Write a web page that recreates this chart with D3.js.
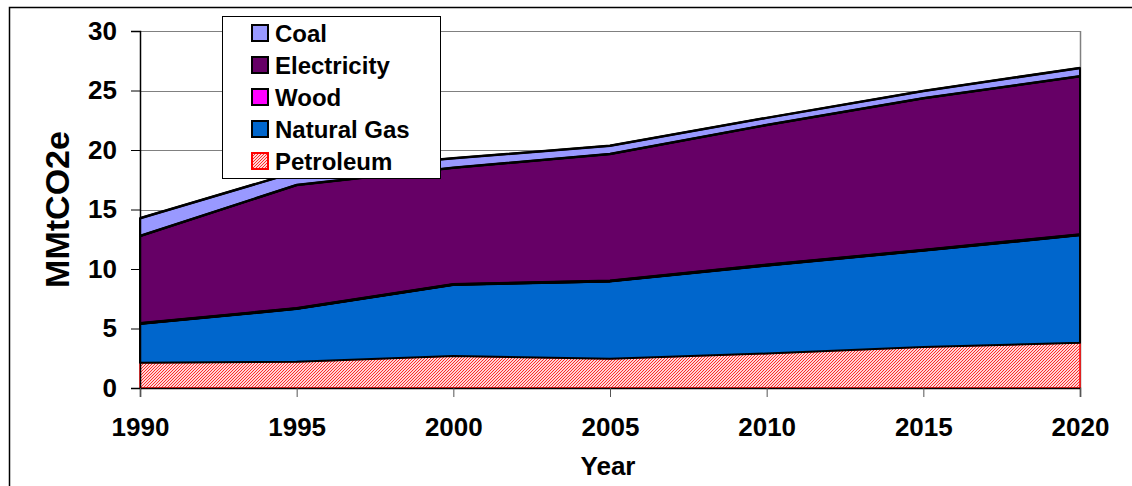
<!DOCTYPE html>
<html>
<head>
<meta charset="utf-8">
<script src="https://cdn.jsdelivr.net/npm/d3@7"></script>
<style>
  body { margin: 0; background: #fff; }
  svg text { font-family: "Liberation Sans", Arial, sans-serif; font-weight: bold; fill: #000; }
</style>
</head>
<body>
<svg id="chart"></svg>
<script>
//================ DATA =========================
const years       = [1990, 1995, 2000, 2005, 2010, 2015, 2020];
const petroleum   = [2.13, 2.2, 2.69, 2.46, 2.9, 3.45, 3.8];
const naturalGas  = [3.26, 4.45, 5.98, 6.5, 7.4, 8.1, 9.05];
const wood        = [0.05, 0.05, 0.05, 0.05, 0.05, 0.05, 0.05];
const electricity = [7.33, 10.36, 9.78, 10.65, 11.75, 12.75, 13.3];
const coal        = [1.5, 1.1, 0.8, 0.7, 0.6, 0.6, 0.7];
const yTicks      = [0, 5, 10, 15, 20, 25, 30];

const seriesKeys  = ['petroleum', 'naturalGas', 'wood', 'electricity', 'coal'];
const seriesNames = { coal: 'Coal', electricity: 'Electricity', wood: 'Wood',
                      naturalGas: 'Natural Gas', petroleum: 'Petroleum' };
const legendOrder = ['coal', 'electricity', 'wood', 'naturalGas', 'petroleum'];

//================ SETUP =========================
const width = 1132;
const height = 486;
const plot = { left: 140, right: 1080, top: 31, bottom: 388 };

const table = years.map((y, i) => ({
  year: y,
  petroleum: petroleum[i],
  naturalGas: naturalGas[i],
  wood: wood[i],
  electricity: electricity[i],
  coal: coal[i]
}));

const svg = d3.select('#chart')
    .attr('width', width)
    .attr('height', height);

//-------- hatch pattern for petroleum
const defs = svg.append('defs');
const pat = defs.append('pattern')
    .attr('id', 'hatch')
    .attr('patternUnits', 'userSpaceOnUse')
    .attr('width', 3)
    .attr('height', 3);
pat.append('rect').attr('width', 3).attr('height', 3).attr('fill', '#ffd6d6');
pat.append('path')
    .attr('d', 'M-1,1 l2,-2 M0,3 l3,-3 M2,4 l2,-2')
    .attr('stroke', '#ff2a2a')
    .attr('stroke-width', 1);

const fills = {
  coal: '#9999ff',
  electricity: '#660066',
  wood: '#ff00ff',
  naturalGas: '#0066cc',
  petroleum: 'url(#hatch)'
};
const strokes = {
  coal: '#000', electricity: '#000', wood: '#000', naturalGas: '#000', petroleum: '#ff0000'
};

//-------- outer chart border
svg.append('rect')
    .attr('x', 9.5).attr('y', 7.5)
    .attr('width', 1140).attr('height', 500)
    .attr('fill', 'none')
    .attr('stroke', '#000')
    .attr('stroke-width', 1.5);

const x = d3.scaleLinear().domain([1990, 2020]).range([plot.left, plot.right]);
const y = d3.scaleLinear().domain([0, 30]).range([plot.bottom, plot.top]);

//-------- gridlines
svg.append('g')
    .attr('class', 'grid')
    .selectAll('line')
    .data(yTicks.filter(d => d > 0))
    .join('line')
      .attr('x1', plot.left).attr('x2', plot.right)
      .attr('y1', d => Math.round(y(d)) + 0.5)
      .attr('y2', d => Math.round(y(d)) + 0.5)
      .attr('stroke', '#808080')
      .attr('stroke-width', 1);

svg.append('line')
    .attr('x1', plot.right + 0.5).attr('x2', plot.right + 0.5)
    .attr('y1', plot.top).attr('y2', plot.bottom)
    .attr('stroke', '#808080')
    .attr('stroke-width', 1.5);

//-------- stacked areas
const stack = d3.stack().keys(seriesKeys);
const layers = stack(table);

const area = d3.area()
    .x(d => x(d.data.year))
    .y0(d => y(d[0]))
    .y1(d => y(d[1]));

svg.append('g')
    .selectAll('path')
    .data(layers)
    .join('path')
      .attr('d', area)
      .attr('fill', d => fills[d.key])
      .attr('stroke', d => strokes[d.key])
      .attr('stroke-width', d => d.key === 'petroleum' ? 1.5 : 2)
      .attr('stroke-linejoin', 'round');

// redraw top edges so the black outline sits over the neighbouring layer
const topLine = d3.line()
    .x(d => x(d.data.year))
    .y(d => y(d[1]));
svg.append('g')
    .selectAll('path')
    .data(layers.filter(l => l.key !== 'petroleum'))
    .join('path')
      .attr('d', topLine)
      .attr('fill', 'none')
      .attr('stroke', '#000')
      .attr('stroke-width', 2.5);

//-------- axes
const yAxis = d3.axisLeft(y).tickValues(yTicks).tickSize(9).tickPadding(14);
const gy = svg.append('g')
    .attr('transform', `translate(${plot.left},0)`)
    .call(yAxis);
gy.select('.domain').attr('stroke', '#000').attr('stroke-width', 1.5);
gy.selectAll('.tick line').attr('stroke', '#000');
gy.selectAll('text')
    .attr('font-size', 26)
    .attr('font-family', '"Liberation Sans", Arial, sans-serif')
    .attr('font-weight', 'bold');

const xAxis = d3.axisBottom(x).tickValues(years).tickFormat(d3.format('d'))
    .tickSize(9).tickPadding(21);
const gx = svg.append('g')
    .attr('transform', `translate(0,${plot.bottom})`)
    .call(xAxis);
gx.select('.domain').attr('stroke', '#000').attr('stroke-width', 1.5);
gx.selectAll('.tick line').attr('stroke', '#555');
gx.selectAll('text')
    .attr('font-size', 26)
    .attr('font-family', '"Liberation Sans", Arial, sans-serif')
    .attr('font-weight', 'bold');

//-------- axis titles
svg.append('text')
    .attr('x', (plot.left + plot.right) / 2 - 2)
    .attr('y', 475)
    .attr('text-anchor', 'middle')
    .attr('font-size', 26)
    .text('Year');

svg.append('text')
    .attr('transform', `translate(69,${(plot.top + plot.bottom) / 2}) rotate(-90)`)
    .attr('text-anchor', 'middle')
    .attr('font-size', 34)
    .text('MMtCO2e');

//-------- legend
const legend = svg.append('g').attr('transform', 'translate(222,16)');
legend.append('rect')
    .attr('x', 0.5).attr('y', 0.5)
    .attr('width', 218).attr('height', 162)
    .attr('fill', '#fff')
    .attr('stroke', '#000')
    .attr('stroke-width', 1);

const item = legend.selectAll('g.item')
    .data(legendOrder)
    .join('g')
      .attr('class', 'item')
      .attr('transform', (d, i) => `translate(29,${17 + i * 32})`);

item.append('rect')
    .attr('x', 1).attr('y', -8)
    .attr('width', 16).attr('height', 16)
    .attr('fill', d => fills[d])
    .attr('stroke', d => d === 'petroleum' ? '#ff0000' : '#000')
    .attr('stroke-width', 2);

item.append('text')
    .attr('x', 24)
    .attr('y', 9)
    .attr('font-size', 24)
    .text(d => seriesNames[d]);
</script>
</body>
</html>
